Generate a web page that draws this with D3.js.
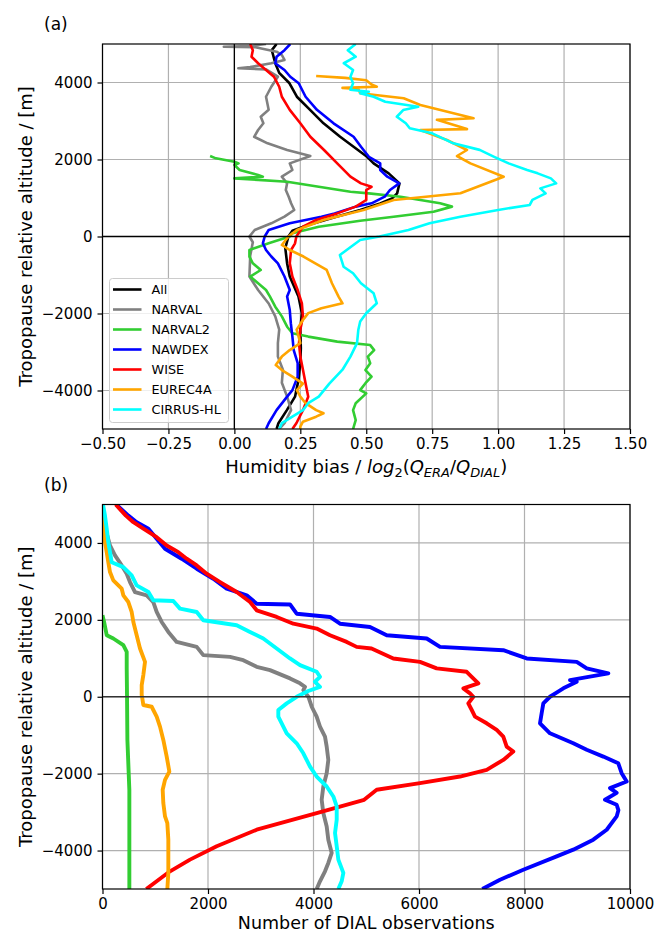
<!DOCTYPE html>
<html>
<head>
<meta charset="utf-8">
<script src="https://cdn.jsdelivr.net/npm/d3@7"></script>
<style>
  body { margin: 0; background: #fff; }
  svg text { font-family: "DejaVu Sans", sans-serif; fill: #000; }
</style>
</head>
<body>
<svg id="chart" width="656" height="934"></svg>
<script>

// ---- data: [altitude relative to tropopause (m), value] ----
const seriesNames = ['All', 'NARVAL', 'NARVAL2', 'NAWDEX', 'WISE', 'EUREC4A', 'CIRRUS-HL'];
const seriesColors = ['#000000', '#808080', '#32cd32', '#0000ff', '#ff0000', '#ffa500', '#00ffff'];

const altTicks = [-4000, -2000, 0, 2000, 4000];
const biasTicks = [-0.5, -0.25, 0, 0.25, 0.5, 0.75, 1.0, 1.25, 1.5];
const countTicks = [0, 2000, 4000, 6000, 8000, 10000];

// humidity bias log2(Q_ERA/Q_DIAL)
const biasAll = [[5000,0.16],[4840,0.142],[4500,0.155],[4250,0.17],[3980,0.209],[3630,0.237],[3290,0.287],[2940,0.338],[2590,0.401],[2330,0.452],[2070,0.503],[1900,0.528],[1640,0.585],[1380,0.626],[1120,0.617],[990,0.598],[860,0.553],[690,0.477],[500,0.38],[300,0.28],[150,0.22],[0,0.205],[-300,0.193],[-700,0.2],[-1040,0.21],[-1560,0.243],[-1990,0.256],[-2420,0.25],[-2900,0.252],[-3290,0.25],[-3730,0.243],[-4160,0.23],[-4510,0.199],[-4850,0.167],[-5000,0.16]];
const biasNarval = [[5000,0.12],[4950,0.06],[4930,-0.04],[4915,0.08],[4800,0.16],[4714,0.18],[4585,0.19],[4500,0.14],[4400,0.06],[4370,0.015],[4340,0.12],[4150,0.165],[3890,0.14],[3630,0.12],[3290,0.13],[3110,0.10],[2940,0.11],[2766,0.09],[2590,0.075],[2420,0.126],[2247,0.2],[2091,0.288],[1900,0.21],[1727,0.22],[1553,0.18],[1380,0.2],[1208,0.195],[1034,0.206],[862,0.215],[688,0.227],[515,0.19],[343,0.14],[170,0.077],[0,0.057],[-150,0.07],[-500,0.06],[-1040,0.057],[-1390,0.09],[-1740,0.13],[-2075,0.155],[-2420,0.17],[-2770,0.165],[-3120,0.165],[-3460,0.184],[-3800,0.18],[-4160,0.2],[-4510,0.215],[-4850,0.19],[-5000,0.17]];
const biasNarval2 = [[2091,-0.092],[2030,-0.07],[1943,0.0],[1900,0.016],[1857,0.0],[1727,0.02],[1597,0.09],[1553,0.108],[1510,0.0],[1424,0.2],[1294,0.32],[1163,0.44],[1120,0.51],[1034,0.63],[862,0.78],[776,0.825],[645,0.755],[515,0.604],[410,0.477],[255,0.32],[83,0.22],[0,0.21],[-177,0.13],[-350,0.057],[-525,0.057],[-696,0.07],[-870,0.1],[-1040,0.06],[-1215,0.09],[-1390,0.12],[-1560,0.135],[-1823,0.155],[-2075,0.18],[-2343,0.2],[-2514,0.22],[-2600,0.28],[-2730,0.39],[-2820,0.515],[-2950,0.53],[-3120,0.506],[-3290,0.515],[-3470,0.497],[-3640,0.52],[-3810,0.497],[-3990,0.477],[-4075,0.5],[-4330,0.46],[-4510,0.45],[-4770,0.46],[-5000,0.45]];
const biasNawdex = [[5000,0.212],[4840,0.19],[4670,0.16],[4500,0.155],[4325,0.19],[4150,0.212],[3980,0.244],[3630,0.27],[3290,0.313],[2940,0.376],[2590,0.452],[2330,0.48],[2070,0.51],[1900,0.553],[1727,0.553],[1553,0.58],[1380,0.625],[1208,0.59],[1034,0.57],[862,0.52],[776,0.46],[600,0.38],[515,0.33],[343,0.21],[170,0.13],[0,0.115],[-177,0.108],[-350,0.12],[-520,0.14],[-696,0.165],[-1040,0.19],[-1390,0.21],[-1560,0.2],[-1910,0.21],[-2250,0.214],[-2600,0.22],[-2950,0.225],[-3290,0.24],[-3640,0.24],[-3990,0.22],[-4160,0.2],[-4510,0.16],[-4850,0.13],[-5000,0.12]];
const biasWise = [[5000,0.06],[4840,0.07],[4670,0.065],[4500,0.09],[4325,0.12],[4150,0.15],[3890,0.17],[3630,0.18],[3290,0.21],[2940,0.25],[2590,0.288],[2247,0.34],[1900,0.39],[1553,0.44],[1380,0.48],[1290,0.52],[1208,0.5],[1120,0.5],[948,0.5],[776,0.46],[600,0.39],[430,0.31],[255,0.26],[0,0.235],[-177,0.23],[-350,0.215],[-696,0.21],[-1040,0.22],[-1390,0.24],[-1740,0.256],[-2075,0.26],[-2420,0.25],[-2770,0.245],[-3120,0.25],[-3460,0.26],[-3820,0.27],[-4160,0.28],[-4510,0.26],[-4850,0.235],[-5000,0.22]];
const biasEurec4a = [[4170,0.31],[4120,0.42],[4060,0.5],[3950,0.52],[3890,0.54],[3860,0.41],[3830,0.47],[3720,0.477],[3590,0.642],[3415,0.705],[3070,0.907],[3030,0.768],[2790,0.882],[2766,0.705],[2506,0.806],[2247,0.882],[2091,0.844],[1900,0.895],[1553,1.021],[1122,0.857],[948,0.604],[688,0.49],[430,0.338],[170,0.237],[0,0.205],[-220,0.18],[-350,0.21],[-520,0.262],[-870,0.35],[-1040,0.36],[-1215,0.37],[-1560,0.395],[-1735,0.41],[-1865,0.33],[-1990,0.28],[-2170,0.26],[-2420,0.236],[-2510,0.24],[-2770,0.25],[-2950,0.21],[-3120,0.18],[-3340,0.157],[-3470,0.18],[-3640,0.22],[-3820,0.26],[-3990,0.237],[-4160,0.25],[-4330,0.27],[-4510,0.31],[-4590,0.338],[-4680,0.31],[-4810,0.26],[-4940,0.25],[-5000,0.25]];
const biasCirrus = [[5000,0.46],[4840,0.43],[4670,0.46],[4500,0.415],[4325,0.45],[4150,0.44],[3980,0.45],[3810,0.44],[3760,0.51],[3720,0.477],[3630,0.528],[3500,0.572],[3370,0.697],[3285,0.64],[3110,0.616],[2940,0.65],[2810,0.665],[2680,0.75],[2420,0.83],[2250,0.93],[2070,0.985],[1900,1.04],[1727,1.11],[1640,1.15],[1510,1.2],[1380,1.22],[1250,1.16],[1120,1.18],[950,1.13],[820,1.12],[690,1.0],[515,0.857],[345,0.74],[170,0.66],[0,0.55],[-90,0.477],[-480,0.40],[-785,0.414],[-955,0.45],[-1215,0.48],[-1475,0.528],[-1735,0.54],[-1995,0.5],[-2210,0.477],[-2420,0.47],[-2770,0.465],[-3120,0.44],[-3460,0.41],[-3820,0.36],[-4160,0.32],[-4330,0.28],[-4510,0.26],[-4680,0.22],[-4850,0.18],[-5000,0.17]];

// number of DIAL observations
const countNarval = [[5000,0],[4500,30],[3935,142],[3675,237],[3416,364],[3200,459],[2983,521],[2724,616],[2638,838],[2464,963],[2205,1027],[1945,1122],[1686,1248],[1427,1406],[1297,1786],[1082,1911],[1038,2417],[952,2669],[778,2923],[692,3175],[477,3555],[348,3744],[259,3839],[174,3807],[0,3902],[-260,3966],[-518,4060],[-777,4123],[-1036,4218],[-1297,4250],[-1642,4281],[-1987,4250],[-2334,4186],[-2680,4155],[-3025,4186],[-3372,4250],[-3717,4281],[-4063,4345],[-4322,4281],[-4540,4218],[-4800,4123],[-5000,4060]];
const countNarval2 = [[2120,0],[1945,30],[1600,80],[1515,205],[1341,395],[1167,459],[737,459],[0,465],[-1124,472],[-2420,509],[-5000,509]];
const countNawdex = [[5000,260],[4710,490],[4540,648],[4370,870],[4110,1027],[3850,1185],[3590,1500],[3330,1786],[3070,2100],[2810,2354],[2640,2733],[2420,2923],[2400,3555],[2160,3681],[2075,4313],[1900,4502],[1815,5071],[1600,5388],[1515,6146],[1297,6398],[1211,7598],[996,8042],[908,8990],[737,9179],[607,9589],[433,8863],[390,8990],[218,8736],[100,8600],[0,8483],[-172,8357],[-430,8325],[-690,8294],[-950,8483],[-1210,8925],[-1380,9179],[-1556,9494],[-1730,9778],[-1987,9842],[-2205,9937],[-2376,9621],[-2500,9747],[-2680,9526],[-2810,9747],[-2950,9780],[-3113,9747],[-3458,9558],[-3717,9304],[-3977,8925],[-4150,8610],[-4500,7977],[-4760,7536],[-5000,7200]];
const countWise = [[5000,250],[4710,443],[4540,585],[4370,775],[4150,1027],[3935,1217],[3760,1438],[3590,1596],[3416,1786],[3200,1975],[2983,2228],[2724,2544],[2464,2797],[2249,2923],[2075,3302],[1900,3618],[1774,4060],[1600,4313],[1427,4629],[1297,4818],[1255,5100],[996,5513],[908,6019],[737,6335],[650,6904],[520,6999],[348,7125],[218,6841],[88,6967],[0,7030],[-172,6935],[-345,7000],[-518,7062],[-690,7283],[-863,7473],[-1036,7598],[-1297,7662],[-1427,7788],[-1642,7598],[-1901,7283],[-2075,6777],[-2246,6019],[-2420,5198],[-2680,4960],[-3025,4060],[-3458,2923],[-3890,2165],[-4236,1659],[-4540,1280],[-4800,1027],[-5000,830]];
const countEurec4a = [[5000,0],[4890,10],[4020,47],[3760,80],[3500,110],[3242,142],[3027,205],[2810,364],[2638,395],[2464,490],[2205,553],[1945,585],[1600,648],[1255,711],[908,806],[563,774],[304,743],[44,743],[0,750],[-215,774],[-260,932],[-518,1027],[-777,1090],[-1124,1153],[-1556,1217],[-1945,1267],[-2161,1185],[-2420,1141],[-2766,1153],[-3113,1185],[-3285,1229],[-3717,1248],[-4150,1248],[-4580,1248],[-5000,1229]];
const countCirrus = [[5000,10],[4710,47],[4370,80],[4020,110],[3760,142],[3500,174],[3372,395],[3156,553],[2897,648],[2724,870],[2508,963],[2490,1342],[2293,1469],[2205,1786],[1990,1911],[1860,2544],[1686,2796],[1515,3048],[1255,3302],[996,3555],[822,3744],[650,4060],[520,4123],[390,4028],[259,4123],[150,3900],[0,3681],[-172,3492],[-345,3333],[-518,3333],[-690,3397],[-950,3492],[-1210,3681],[-1470,3807],[-1816,3934],[-2075,4060],[-2334,4250],[-2594,4376],[-2853,4440],[-3200,4440],[-3545,4408],[-3890,4440],[-4236,4471],[-4580,4566],[-4800,4534],[-5000,4471]];

const svg = d3.select('#chart');

const left = 102.5, right = 630;

function drawPanel(id, x, y, xTicks, xFmt, series, lw) {
  const g = svg.append('g').attr('id', id);
  const [y0, y1] = y.range();

  g.append('clipPath').attr('id', `clip-${id}`)
    .append('rect')
    .attr('x', left).attr('y', y1)
    .attr('width', right - left).attr('height', y0 - y1);

  // grid
  g.append('g').selectAll('line').data(xTicks).join('line')
    .attr('x1', d => x(d)).attr('x2', d => x(d))
    .attr('y1', y0).attr('y2', y1)
    .attr('stroke', '#b0b0b0').attr('stroke-width', 1.2);
  g.append('g').selectAll('line').data(altTicks).join('line')
    .attr('x1', left).attr('x2', right)
    .attr('y1', d => y(d)).attr('y2', d => y(d))
    .attr('stroke', '#b0b0b0').attr('stroke-width', 1.2);

  // profiles
  const line = d3.line().x(d => x(d[1])).y(d => y(d[0]));
  g.append('g').attr('clip-path', `url(#clip-${id})`)
    .selectAll('path').data(series).join('path')
    .attr('d', d => line(d.values))
    .attr('fill', 'none')
    .attr('stroke', d => d.color)
    .attr('stroke-width', lw)
    .attr('stroke-linejoin', 'round')
    .attr('stroke-linecap', 'butt');

  // zero lines
  g.append('line')
    .attr('x1', left).attr('x2', right)
    .attr('y1', y(0)).attr('y2', y(0))
    .attr('stroke', id === 'a' ? '#000' : '#333').attr('stroke-width', 1.5);
  if (x.domain()[0] < 0) {
    g.append('line')
      .attr('x1', x(0)).attr('x2', x(0))
      .attr('y1', y0).attr('y2', y1)
      .attr('stroke', '#000').attr('stroke-width', 1.3);
  }

  // frame
  g.append('rect')
    .attr('x', left).attr('y', y1)
    .attr('width', right - left).attr('height', y0 - y1)
    .attr('fill', 'none').attr('stroke', '#000').attr('stroke-width', 1.2);

  // axes
  const xAxis = g.append('g')
    .attr('transform', `translate(0,${y0})`)
    .call(d3.axisBottom(x).tickValues(xTicks).tickFormat(xFmt).tickSize(5).tickPadding(4).tickSizeOuter(0));
  const yAxis = g.append('g')
    .attr('transform', `translate(${left},0)`)
    .call(d3.axisLeft(y).tickValues(altTicks).tickFormat(d3.format('d')).tickSize(5).tickPadding(5).tickSizeOuter(0));
  [xAxis, yAxis].forEach(a => {
    a.select('.domain').remove();
    a.attr('font-family', null).attr('font-size', 15);
    a.selectAll('line').attr('stroke', '#000').attr('stroke-width', 1.2);
    a.selectAll('text').attr('fill', '#000');
  });

  // y label
  g.append('text')
    .attr('transform', `translate(26,${(y0 + y1) / 2}) rotate(-90)`)
    .attr('text-anchor', 'middle')
    .attr('dy', '0.35em')
    .attr('font-size', 18)
    .text('Tropopause relative altitude / [m]');

  return g;
}

// panel (a)
const xa = d3.scaleLinear().domain([-0.5, 1.5]).range([left, right]);
const ya = d3.scaleLinear().domain([-5000, 5000]).range([429, 44]);
const biasSeries = [biasAll, biasNarval, biasNarval2, biasNawdex, biasWise, biasEurec4a, biasCirrus]
  .map((v, i) => ({ name: seriesNames[i], color: seriesColors[i], values: v }));
const ga = drawPanel('a', xa, ya, biasTicks, d3.format('.2f'), biasSeries, 2.6);

// panel (b)
const xb = d3.scaleLinear().domain([0, 10000]).range([left, right]);
const yb = d3.scaleLinear().domain([-5000, 5000]).range([889, 504.5]);
const countSeries = [countNarval, countNarval2, countNawdex, countWise, countEurec4a, countCirrus]
  .map((v, i) => ({ name: seriesNames[i + 1], color: seriesColors[i + 1], values: v }));
const gb = drawPanel('b', xb, yb, countTicks, d3.format('d'), countSeries, 3.9);

// x labels
const xl = ga.append('text')
  .attr('x', (left + right) / 2).attr('y', 473)
  .attr('text-anchor', 'middle')
  .attr('font-size', 18);
xl.append('tspan').text('Humidity bias / ');
xl.append('tspan').attr('font-style', 'italic').text('log');
xl.append('tspan').attr('font-size', 13).attr('dy', 4).text('2');
xl.append('tspan').attr('dy', -4).text('(');
xl.append('tspan').attr('font-style', 'italic').text('Q');
xl.append('tspan').attr('font-style', 'italic').attr('font-size', 13).attr('dy', 4).text('ERA');
xl.append('tspan').attr('dy', -4).text('/');
xl.append('tspan').attr('font-style', 'italic').text('Q');
xl.append('tspan').attr('font-style', 'italic').attr('font-size', 13).attr('dy', 4).text('DIAL');
xl.append('tspan').attr('dy', -4).text(')');

gb.append('text')
  .attr('x', (left + right) / 2).attr('y', 929)
  .attr('text-anchor', 'middle')
  .attr('font-size', 17.5)
  .text('Number of DIAL observations');

// panel letters
svg.append('text').attr('x', 44).attr('y', 30).attr('font-size', 17).text('(a)');
svg.append('text').attr('x', 44).attr('y', 491).attr('font-size', 17).text('(b)');

// legend
const lg = ga.append('g').attr('transform', 'translate(109.5,278.5)');
lg.append('rect')
  .attr('width', 119).attr('height', 144)
  .attr('rx', 3)
  .attr('fill', 'white').attr('fill-opacity', 0.8)
  .attr('stroke', '#cccccc').attr('stroke-width', 1);
const items = lg.selectAll('.item').data(biasSeries).join('g')
  .attr('class', 'item')
  .attr('transform', (d, i) => `translate(0,${11 + i * 20})`);
items.append('line')
  .attr('x1', 3.5).attr('x2', 32)
  .attr('stroke', d => d.color).attr('stroke-width', 2.6);
items.append('text')
  .attr('x', 42).attr('dy', '0.35em')
  .attr('font-size', 12.8)
  .text(d => d.name);

</script>
</body>
</html>
